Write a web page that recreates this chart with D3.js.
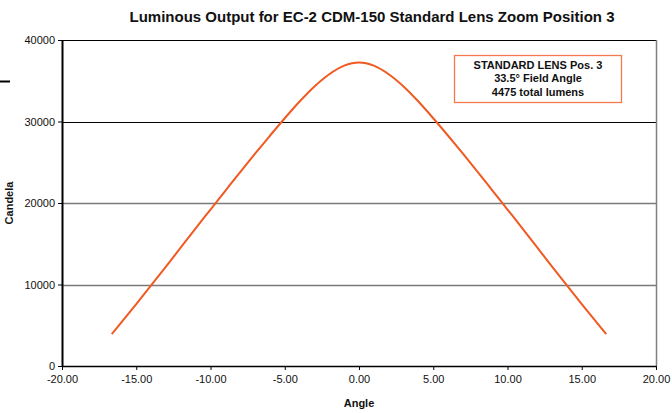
<!DOCTYPE html>
<html>
<head>
<meta charset="utf-8">
<title>Luminous Output</title>
<script src="https://cdn.jsdelivr.net/npm/d3@7"></script>
<style>
	body { margin: 0; background: #fff; }
	svg text { font-family: "Liberation Sans", Arial, sans-serif; fill: #111; }
</style>
</head>
<body>
<svg width="672" height="413"></svg>
<script>
	// angle (deg) and candela
	var angles = [-16.65, -16, -15, -14, -13, -12, -11, -10, -9, -8, -7, -6, -5, -4, -3, -2, -1, 0,
		1, 2, 3, 4, 5, 6, 7, 8, 9, 10, 11, 12, 13, 14, 15, 16, 16.65];
	var candela = [3900, 5350, 7600, 9900, 12200, 14550, 16900, 19200, 21500, 23800, 26050, 28250, 30400, 32450, 34300, 35800, 36850, 37250,
		36850, 35800, 34300, 32450, 30400, 28250, 26050, 23800, 21500, 19200, 16900, 14550, 12200, 9900, 7600, 5350, 3900];
	var xTicks = [-20, -15, -10, -5, 0, 5, 10, 15, 20];
	var yTicks = [0, 10000, 20000, 30000, 40000];
	var noteLines = ["STANDARD LENS Pos. 3", "33.5\u00b0 Field Angle", "4475 total lumens"];

	var svg = d3.select("svg");
	var plotL = 62, plotR = 656, plotT = 40, plotB = 366;

	var x = d3.scaleLinear().domain([-20, 20]).range([plotL, plotR]);
	var y = d3.scaleLinear().domain([0, 40000]).range([plotB, plotT]);

	// title
	svg.append("text")
		.attr("x", 372).attr("y", 22)
		.attr("text-anchor", "middle")
		.style("font-size", "15px").style("font-weight", "bold")
		.text("Luminous Output for EC-2 CDM-150 Standard Lens Zoom Position 3");

	// gridlines
	svg.append("g").selectAll("line")
		.data(yTicks.filter(function(d) { return d > 0; }))
		.enter().append("line")
		.attr("x1", plotL).attr("x2", plotR)
		.attr("y1", function(d) { return Math.round(y(d)) + 0.5; })
		.attr("y2", function(d) { return Math.round(y(d)) + 0.5; })
		.attr("stroke", function(d) { return (d == 10000 || d == 20000) ? "#7a7a7a" : "#000"; })
		.attr("stroke-width", function(d) { return (d == 10000 || d == 20000) ? 1.4 : 1.2; });

	// right border
	svg.append("line")
		.attr("x1", plotR + 0.5).attr("x2", plotR + 0.5)
		.attr("y1", plotT).attr("y2", plotB)
		.attr("stroke", "#808080").attr("stroke-width", 1.5);

	// axes
	var fmt2 = d3.format(".2f");
	var xAxis = d3.axisBottom(x).tickValues(xTicks).tickSize(4).tickSizeOuter(0)
		.tickFormat(function(d) { return fmt2(d).replace("\u2212", "-"); });
	var yAxis = d3.axisLeft(y).tickValues(yTicks).tickSize(4).tickSizeOuter(0)
		.tickFormat(d3.format("d"));

	var gx = svg.append("g").attr("transform", "translate(0," + plotB + ")").call(xAxis);
	var gy = svg.append("g").attr("transform", "translate(" + plotL + ",0)").call(yAxis);

	gx.select(".domain").attr("stroke", "#000").attr("stroke-width", 1.5);
	gy.select(".domain").attr("stroke", "#000").attr("stroke-width", 2);
	[gx, gy].forEach(function(g) {
		g.selectAll(".tick line").attr("stroke", "#000");
		g.selectAll(".tick text")
			.style("font-size", "11px")
			.style("font-family", "'Liberation Sans', Arial, sans-serif")
			.attr("fill", "#111");
	});
	gx.selectAll(".tick text").attr("dy", "0.9em");
	gy.selectAll(".tick text").attr("x", -7);

	// axis titles
	svg.append("text")
		.attr("x", x(0)).attr("y", 407)
		.attr("text-anchor", "middle")
		.style("font-size", "11px").style("font-weight", "bold")
		.text("Angle");
	svg.append("text")
		.attr("transform", "translate(13," + y(20000) + ") rotate(-90)")
		.attr("text-anchor", "middle")
		.style("font-size", "11px").style("font-weight", "bold")
		.text("Candela");

	// stray dash at left edge
	svg.append("line")
		.attr("x1", 0).attr("x2", 10).attr("y1", 81.5).attr("y2", 81.5)
		.attr("stroke", "#000").attr("stroke-width", 2);

	// curve
	var pts = angles.map(function(a, i) { return [a, candela[i]]; });
	var line = d3.line()
		.x(function(d) { return x(d[0]); })
		.y(function(d) { return y(d[1]); })
		.curve(d3.curveMonotoneX);
	svg.append("path")
		.datum(pts)
		.attr("d", line)
		.attr("fill", "none")
		.attr("stroke", "#F05A22")
		.attr("stroke-width", 2);

	// note box
	svg.append("rect")
		.attr("x", 454.5).attr("y", 55.5)
		.attr("width", 167).attr("height", 47)
		.attr("fill", "#fff")
		.attr("stroke", "#F47A4E").attr("stroke-width", 1.3);
	svg.append("g").selectAll("text")
		.data(noteLines)
		.enter().append("text")
		.attr("x", 538)
		.attr("y", function(d, i) { return 68.5 + i * 13.8; })
		.attr("text-anchor", "middle")
		.style("font-size", "11px").style("font-weight", "bold")
		.text(function(d) { return d; });
</script>
</body>
</html>
